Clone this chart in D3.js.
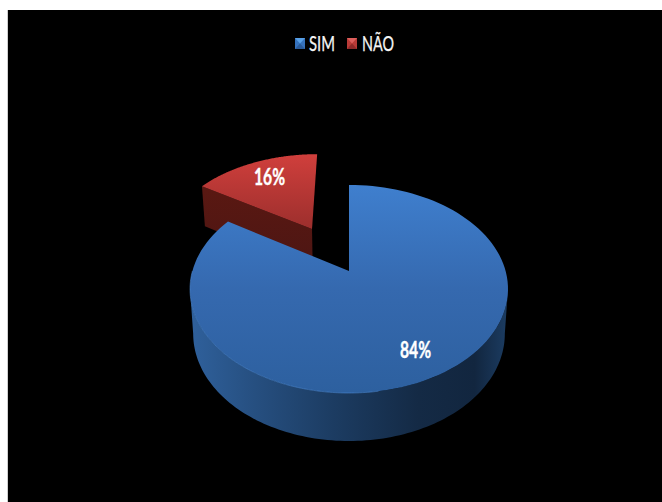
<!DOCTYPE html>
<html><head><meta charset="utf-8">
<script src="https://cdn.jsdelivr.net/npm/d3@7/dist/d3.min.js"></script>
<style>html,body{margin:0;padding:0;background:#fff}svg{display:block}</style>
</head><body><script>
const categories = ["SIM", "NÃO"];
const values = [84, 16];
const labels = ["84%", "16%"];

const W = 662, H = 502;
const svg = d3.select("body").append("svg").attr("width", W).attr("height", H);
const defs = svg.append("defs");
function grad(id, stops, box) {
  const g = defs.append("linearGradient").attr("id", id).attr("gradientUnits", "userSpaceOnUse")
    .attr("x1", box[0]).attr("y1", box[1]).attr("x2", box[2]).attr("y2", box[3]);
  stops.forEach(s => g.append("stop").attr("offset", s[0]).attr("stop-color", s[1]));
}
grad("blueTop", [[0, "#3f7fce"], [0.5, "#3569af"], [1, "#2d609f"]], [0, 185, 0, 393]);
grad("redTop", [[0, "#d03f3c"], [1, "#9a2e2c"]], [0, 154, 0, 232]);
grad("redSide", [[0, "#5a1812"], [1, "#4e1613"]], [0, 186, 0, 258]);
grad("blueSide", [[0, "#2f609b"], [0.2, "#264f80"], [0.45, "#1c3c62"], [0.72, "#142a45"], [0.9, "#12263f"], [1, "#1b3b60"]], [192, 0, 506, 0]);
defs.append("filter").attr("id", "soft").attr("x", "-20%").attr("y", "-20%").attr("width", "140%").attr("height", "140%")
  .append("feGaussianBlur").attr("stdDeviation", 0.45);

svg.append("rect").attr("x", 7).attr("y", 10).attr("width", 1).attr("height", H - 10).attr("fill", "#cfcfcf");
svg.append("rect").attr("x", 8).attr("y", 10).attr("width", W - 8).attr("height", H - 10).attr("fill", "#000");

// perspective projection of the unit disc
const cx = 349, cy = 271, a = 100.9, b = 156.6, k = -0.173;
const den = v => 1 + k * v;
const topP = (u, v) => [cx + b * u / den(v), cy + a * v / den(v)];
const botP = (u, v) => {
  const p = topP(u, v);
  return [cx + (p[0] - cx) * 0.98, p[1] + 44 + 4 * v];
};
const pie = d3.pie().sort(null).startAngle(0).endAngle(2 * Math.PI);
const arcs = pie(values);
const line = d3.line();

function disc(ang, off) { return [off[0] + Math.sin(ang), off[1] - Math.cos(ang)]; }
function arcPts(a0, a1, off, proj) {
  return d3.range(0, 121).map(i => {
    const t = a0 + (a1 - a0) * i / 120;
    const q = disc(t, off);
    return proj(q[0], q[1]);
  });
}
const explode = 0.515, explodeTurn = -0.014;
const offsets = arcs.map((d, i) => {
  if (i === 0) return [0, 0];
  const m = (d.startAngle + d.endAngle) / 2 + explodeTurn;
  return [Math.sin(m) * explode, -Math.cos(m) * explode];
});

// exploded slice
const r = arcs[1], ro = offsets[1];
const rS = disc(r.startAngle, ro);
svg.append("path").attr("fill", "url(#redSide)")
  .attr("d", line([topP(rS[0], rS[1]), topP(ro[0], ro[1]), botP(ro[0], ro[1]), botP(rS[0], rS[1])]) + "Z");
svg.append("path").attr("fill", "url(#redTop)")
  .attr("d", line([topP(ro[0], ro[1]), ...arcPts(r.startAngle, r.endAngle, ro, topP)]) + "Z");

// main slice: rim between the two silhouette points, then the top
const bl = arcs[0];
const front0 = Math.acos(k), front1 = 2 * Math.PI - front0;
const rimTop = arcPts(front0, front1, [0, 0], topP);
const rimBot = arcPts(front0, front1, [0, 0], botP);
svg.append("path").attr("fill", "url(#blueSide)")
  .attr("d", line([...rimTop, ...rimBot.reverse()]) + "Z");
svg.append("path").attr("fill", "url(#blueTop)")
  .attr("d", line([topP(0, 0), ...arcPts(bl.startAngle, bl.endAngle, [0, 0], topP)]) + "Z");
svg.append("path").attr("fill", "none").attr("stroke", "#4c8ad6").attr("stroke-opacity", 0.55).attr("stroke-width", 1)
  .attr("d", line(arcPts(Math.PI * 0.95, Math.PI * 1.5, [0, 0], topP)));

// value labels
const font = "Lato, 'Open Sans', sans-serif";
const labelPos = [[415.5, 358], [269.5, 185]];
svg.selectAll("text.val").data(labels).join("text").attr("class", "val")
  .attr("x", (d, i) => labelPos[i][0]).attr("y", (d, i) => labelPos[i][1])
  .attr("text-anchor", "middle").attr("fill", "#fff").attr("stroke", "#fff").attr("stroke-width", 0.4)
  .attr("font-family", font).attr("font-weight", 700).attr("font-size", 22)
  .attr("textLength", 31).attr("lengthAdjust", "spacingAndGlyphs").text(d => d);

// legend
const legX = [295, 347], legW = 10, legH = 11, legY = 38;
const legColors = [["#58a0e6", "#3672bd", "#2a5a99"], ["#dc5f5b", "#b93a37", "#8f2b29"]];
const legG = svg.append("g").attr("filter", "url(#soft)");
categories.forEach((c, i) => {
  const x0 = legX[i], x1 = x0 + legW, y0 = legY, y1 = y0 + legH, mx = x0 + legW / 2, my = y0 + legH / 2;
  const [lt, md, dk] = legColors[i];
  legG.append("path").attr("fill", md).attr("d", line([[x0, y0], [x1, y0], [x1, y1], [x0, y1]]) + "Z");
  legG.append("path").attr("fill", lt).attr("d", line([[x0, y0], [x1, y0], [mx, my]]) + "Z");
  legG.append("path").attr("fill", dk).attr("d", line([[x0, y1], [x1, y1], [mx, my]]) + "Z");
});
const legTextX = [309, 362], legTextW = [26, 32];
svg.selectAll("text.leg").data(categories).join("text").attr("class", "leg")
  .attr("x", (d, i) => legTextX[i]).attr("y", 51)
  .attr("fill", "#f5f5f5").attr("stroke", "#f5f5f5").attr("stroke-width", 0.25)
  .attr("font-family", font).attr("font-size", 20.5)
  .attr("textLength", (d, i) => legTextW[i]).attr("lengthAdjust", "spacingAndGlyphs").text(d => d);
</script></body></html>
